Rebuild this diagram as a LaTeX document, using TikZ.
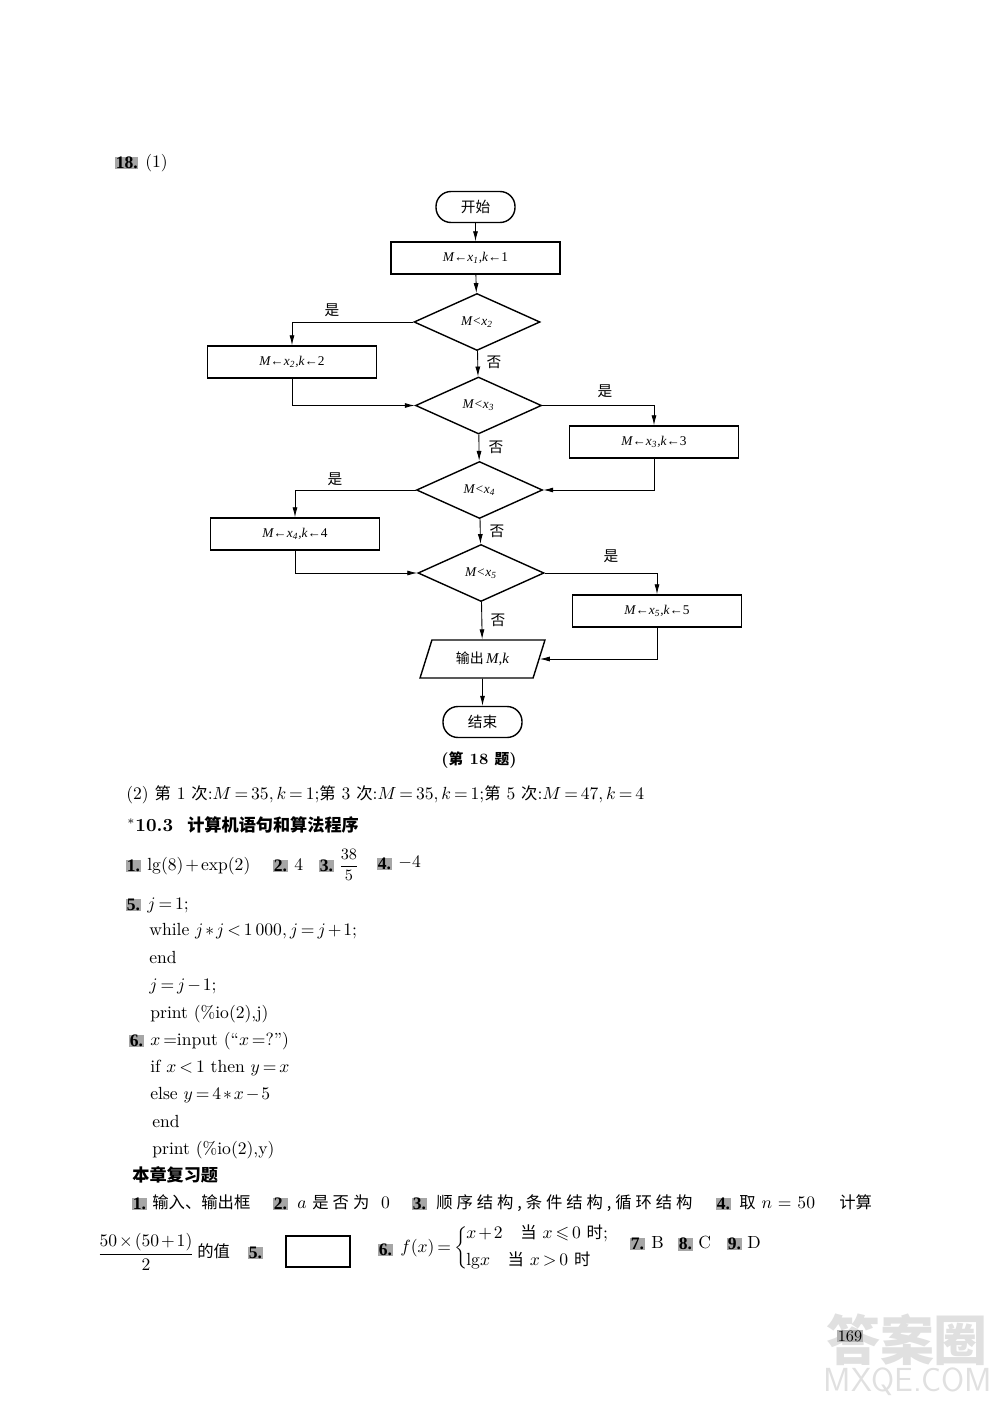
\documentclass[tikz,border=0pt]{standalone}
\usepackage{amsmath,amssymb}
\usepackage{fontspec}
\newfontfamily\cjk[Scale=0.93]{Noto Sans CJK SC}
\newfontfamily\cjkwide[Scale=0.93,LetterSpace=24]{Noto Sans CJK SC}
\newfontfamily\tms{Liberation Serif}
\thickmuskip=3mu
\medmuskip=2mu
\usetikzlibrary{shapes.geometric, arrows.meta, positioning}
\tikzstyle{startstop} = [draw, rounded corners=3mm, minimum width=15.8mm, minimum height=6.2mm, inner sep=0pt, line width=0.8pt, font=\fontsize{9}{10}\selectfont\cjk]
\tikzstyle{process} = [draw, minimum width=33.8mm, minimum height=6.4mm, inner sep=0pt, line width=0.8pt, font=\fontsize{7.6}{9}\selectfont\tms\itshape]
\tikzstyle{decision} = [diamond, aspect=2.2, draw, minimum width=25.2mm, minimum height=11.4mm, inner sep=0pt, line width=0.8pt, font=\fontsize{7.6}{9}\selectfont\tms\itshape]
\tikzstyle{io} = [trapezium, trapezium left angle=66, trapezium right angle=114, trapezium stretches=true, draw, minimum width=25mm, minimum height=7.6mm, inner sep=0pt, line width=0.8pt, font=\fontsize{8.5}{10}\selectfont\tms\itshape]
\tikzstyle{arrow} = [line width=0.5pt, -{Latex[length=2mm,width=1mm]}]
\tikzstyle{tag} = [fill=black!35, inner sep=0.3pt, anchor=west, font=\fontsize{10}{11}\selectfont\tms\bfseries]
\tikzstyle{txt} = [anchor=west, inner sep=0pt, text height=2.4mm, text depth=0.7mm, font=\fontsize{10}{12}\selectfont]
\tikzstyle{head} = [txt, font=\fontsize{10.5}{12}\selectfont\bfseries]
\tikzstyle{lab} = [inner sep=0pt, font=\fontsize{9}{10}\selectfont\cjk]

\begin{document}
\begin{tikzpicture}[x=0.2mm,y=-0.2mm]
    \useasboundingbox (0,0) rectangle (1000,1405);

    \node[tag] (tag-18) at (115,163) {18.};
    \node[txt] (part-1) at (145,163) {(1)};

    % flow chart
    \node[startstop] (start) at (475.5,207) {开始};
    \node[process] (init) at (475.5,258) {M←x\textsubscript{1},k←\textup{1}};
    \node[decision] (dec-2) at (477,322) {M<x\textsubscript{2}};
    \node[process] (set-2) at (292,362) {M←x\textsubscript{2},k←\textup{2}};
    \node[decision] (dec-3) at (478.5,405.5) {M<x\textsubscript{3}};
    \node[process] (set-3) at (654,442) {M←x\textsubscript{3},k←\textup{3}};
    \node[decision] (dec-4) at (479.5,490) {M<x\textsubscript{4}};
    \node[process] (set-4) at (295,534) {M←x\textsubscript{4},k←\textup{4}};
    \node[decision] (dec-5) at (481,573) {M<x\textsubscript{5}};
    \node[process] (set-5) at (657,611) {M←x\textsubscript{5},k←\textup{5}};
    \node[io] (output) at (482.5,659) {{\cjk 输出}\,M,k};
    \node[startstop] (stop) at (482.5,722) {结束};

    \draw[arrow] (start) -- (init);
    \draw[arrow] (init) -- (dec-2);
    \draw[arrow] (dec-2) -- (dec-3);
    \draw[arrow] (dec-3) -- (dec-4);
    \draw[arrow] (dec-4) -- (dec-5);
    \draw[arrow] (dec-5) -- (output);
    \draw[arrow] (output) -- (stop);
    \draw[arrow] (dec-2.west) -| (set-2.north);
    \draw[arrow] (set-2.south) |- (dec-3.west);
    \draw[arrow] (dec-3.east) -| (set-3.north);
    \draw[arrow] (set-3.south) |- (dec-4.east);
    \draw[arrow] (dec-4.west) -| (set-4.north);
    \draw[arrow] (set-4.south) |- (dec-5.west);
    \draw[arrow] (dec-5.east) -| (set-5.north);
    \draw[arrow] (set-5.south) |- (output.east);

    \node[lab] (yes-2) at (332,310) {是};
    \node[lab] (no-2) at (494,362) {否};
    \node[lab] (yes-3) at (605,391) {是};
    \node[lab] (no-3) at (496,447) {否};
    \node[lab] (yes-4) at (335,479) {是};
    \node[lab] (no-4) at (497,531) {否};
    \node[lab] (yes-5) at (611,556) {是};
    \node[lab] (no-5) at (498,620) {否};
    \node[inner sep=0pt, font=\fontsize{9}{10}\selectfont\bfseries] (caption) at (479,760) {({\cjk 第} 18 {\cjk 题})};

    % answers
    \node[txt] (answer-2) at (126,795) {(2) {\cjk 第} 1 {\cjk 次}:$M=35,k=1$;{\cjk 第} 3 {\cjk 次}:$M=35,k=1$;{\cjk 第} 5 {\cjk 次}:$M=47,k=4$};
    \node[head] (section) at (127,827) {$^*$10.3\ \ {\cjk 计算机语句和算法程序}};

    \node[tag] (tag-1) at (126,866) {1.};
    \node[txt] (a-1) at (147,866) {lg(8)${}+{}$exp(2)};
    \node[tag] (tag-2) at (273,866) {2.};
    \node[txt] (a-2) at (294,866) {4};
    \node[tag] (tag-3) at (319,866) {3.};
    \node[inner sep=0pt, font=\fontsize{9.3}{11}\selectfont] (a-3) at (349,865) {$\dfrac{38}{5}$};
    \node[tag] (tag-4) at (377,864) {4.};
    \node[txt] (a-4) at (398,863) {$-4$};

    \node[tag] (tag-5) at (126,905) {5.};
    \node[txt] (code-1) at (147,905) {$j=1$;};
    \node[txt] (code-2) at (149,931) {while $j*j<1\,000,j=j+1$;};
    \node[txt] (code-3) at (149,959) {end};
    \node[txt] (code-4) at (149,986) {$j=j-1$;};
    \node[txt] (code-5) at (150,1014) {print (\%io(2),j)};
    \node[tag] (tag-6) at (129,1041) {6.};
    \node[txt] (code-6) at (150,1041) {$x=$input (``$x=$?'')};
    \node[txt] (code-7) at (150,1068) {if $x<1$ then $y=x$};
    \node[txt] (code-8) at (150,1095) {else $y=4*x-5$};
    \node[txt] (code-9) at (152,1123) {end};
    \node[txt] (code-10) at (152,1150) {print (\%io(2),y)};

    \node[head] (review) at (132,1177) {\cjk 本章复习题};
    \node[tag] (r-tag-1) at (132,1204) {1.};
    \node[txt] (r-1) at (152,1204) {\cjk 输入、输出框};
    \node[tag] (r-tag-2) at (273,1204) {2.};
    \node[txt] (r-2) at (297,1204) {$a$ {\cjkwide 是否为} \ 0};
    \node[tag] (r-tag-3) at (412,1204) {3.};
    \node[txt] (r-3) at (436,1204) {\cjkwide 顺序结构,条件结构,循环结构};
    \node[tag] (r-tag-4) at (716,1204) {4.};
    \node[txt] (r-4) at (739,1204) {{\cjk 取} $n\,=\,50$};
    \node[txt] (r-4b) at (839,1204) {\cjk 计算};

    \node[inner sep=0pt, font=\fontsize{9.6}{11}\selectfont] (r-frac) at (146,1252) {$\dfrac{50\times(50+1)}{2}$};
    \node[txt] (r-val) at (197,1253) {\cjk 的值};
    \node[tag] (r-tag-5) at (248,1253) {5.};
    \draw[line width=0.9pt] (286,1236) rectangle (350,1267);
    \node[tag] (r-tag-6) at (378,1250) {6.};
    \node[txt] (r-6) at (400,1248) {$f(x)=\bigg\{$};
    \node[txt] (r-6a) at (466,1234) {$x+2$\quad{\cjk 当} $x\leqslant0$ {\cjk 时};};
    \node[txt] (r-6b) at (466,1261) {lg$x$\quad{\cjk 当} $x>0$ {\cjk 时}};
    \node[tag] (r-tag-7) at (630,1244) {7.};
    \node[txt] (r-7) at (651,1244) {B};
    \node[tag] (r-tag-8) at (678,1244) {8.};
    \node[txt] (r-8) at (698,1244) {C};
    \node[tag] (r-tag-9) at (727,1244) {9.};
    \node[txt] (r-9) at (747,1244) {D};

    % page number and watermark
    \node[black!12, font=\fontsize{33}{35}\selectfont\bfseries\cjk, inner sep=0pt] (mark-1) at (907,1340) {答案圈};
    \node[black!12, font=\fontsize{19}{21}\selectfont\sffamily, inner sep=0pt] (mark-2) at (908,1382) {MXQE.COM};
    \node[fill=black!30, inner sep=0.5pt, font=\fontsize{9}{11}\selectfont] (page) at (850,1336) {169};
\end{tikzpicture}
\end{document}
